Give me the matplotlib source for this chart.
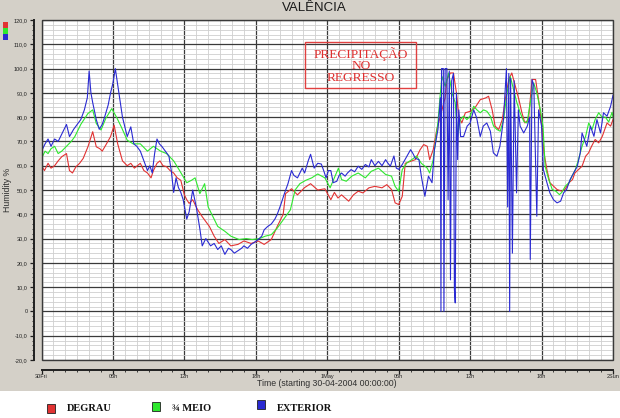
import matplotlib
matplotlib.use("Agg")
import matplotlib.pyplot as plt
from matplotlib.patches import Rectangle
from matplotlib.ticker import MultipleLocator, FuncFormatter

# hours since 30-04-2004 00:00 and humidity %
hrs_degrau = [0.0, 0.25, 0.55, 0.8, 1.1, 1.4, 1.7, 2.1, 2.35, 2.6, 2.9, 3.2, 3.5, 3.9, 4.3,
              4.6, 4.9, 5.1, 5.4, 5.8, 6.1, 6.4, 6.8, 7.2, 7.5, 7.8, 8.3, 8.6, 8.9, 9.2,
              9.4, 9.7, 9.95, 10.2, 10.5, 10.8, 11.1, 11.4, 11.7, 12.0, 12.2, 12.4, 12.7,
              13.1, 13.5, 14.1, 14.5, 14.9, 15.4, 15.9, 16.5, 17.0, 17.6, 18.2, 18.7, 19.3,
              19.8, 20.3, 20.5, 21.0, 21.5, 22.1, 22.6, 23.2, 23.8, 24.3, 24.6, 24.9, 25.2,
              25.8, 26.2, 26.6, 27.0, 27.5, 28.0, 28.6, 29.0, 29.4, 29.7, 30.0, 30.3, 30.55,
              31.0, 31.4, 31.8, 32.1, 32.4, 32.6, 32.9, 33.2, 33.5, 33.9, 34.05, 34.35, 34.6,
              34.85, 35.05, 35.3, 35.6, 36.0, 36.4, 36.85, 37.3, 37.55, 37.85, 38.1, 38.4,
              38.7, 38.95, 39.25, 39.5, 39.8, 40.1, 40.35, 40.6, 40.9, 41.2, 41.5, 41.75,
              42.0, 42.2, 42.45, 42.7, 43.0, 43.3, 43.7, 44.0, 44.3, 44.6, 44.8, 45.1, 45.4,
              45.7, 45.95, 46.2, 46.5, 46.8, 47.1, 47.5, 47.8, 48.0]
degrau = [60, 58, 61, 59, 60, 62, 63.7, 65, 58, 57, 59.6, 61, 63, 67.8, 74,
          67.8, 67, 66, 68.5, 72, 76.7, 69, 62, 60, 61, 59, 61, 58, 57, 55,
          58, 61, 62, 60, 59.6, 58, 57, 55, 54, 48, 46, 44.5, 46,
          42, 39, 35, 31, 28, 29.6, 27, 27.6, 29, 28, 29, 27.6, 29.6,
          35, 40, 48.5, 50.5, 48, 51, 52.6, 50, 50.5, 46, 49, 46.7, 48,
          45.4, 48, 49.5, 48.8, 50.9, 51.5, 50.9, 52.2, 50.2, 44.7, 44, 47.4, 61,
          61.8, 62.5, 66.6, 68.7, 68, 62.5, 66.6, 74.9, 80.4, 88, 95.5, 98.2, 98.2,
          90, 80.4, 77.6, 81.8, 82.4, 83.8, 87.2, 87.9, 88.6, 83, 76.3, 74.9,
          79, 87.2, 95.5, 98.2, 92.7, 87.2, 81.8, 77.6, 79, 95.5, 95.5, 87.2,
          77.6, 65.3, 58.4, 53, 51.6, 50.2, 49.5, 50.5, 53, 54.3, 57, 58.4, 59.8,
          63.9, 65.3, 68, 70.8, 69.4, 72.1, 77.6, 76.3, 79]

hrs_meio = [0.0, 0.3, 0.55, 0.8, 1.1, 1.4, 1.7, 2.1, 2.5, 2.8, 3.3, 3.9, 4.3, 4.6, 5.0,
            5.4, 5.9, 6.3, 6.7, 7.2, 7.7, 8.3, 8.9, 9.4, 10.0, 10.5, 11.1, 11.6, 12.2,
            12.6, 12.9, 13.3, 13.7, 14.0, 14.3, 14.8, 15.4, 15.9, 16.6, 17.2, 17.7, 18.3,
            18.8, 19.3, 19.8, 20.3, 20.9, 21.3, 21.7, 22.2, 22.7, 23.2, 23.8, 24.24, 24.66,
            24.94, 25.2, 25.6, 26.06, 26.6, 27.2, 27.7, 28.3, 28.9, 29.4, 29.7, 30.0, 30.3,
            30.7, 31.1, 31.5, 31.9, 32.4, 32.6, 32.9, 33.3, 33.45, 33.63, 33.91, 34.2,
            34.47, 34.75, 34.95, 35.17, 35.45, 35.73, 36.0, 36.3, 36.57, 36.85, 37.13,
            37.41, 37.7, 37.97, 38.25, 38.53, 38.81, 39.1, 39.37, 39.65, 39.93, 40.2, 40.5,
            40.78, 41.05, 41.34, 41.6, 41.9, 42.12, 42.3, 42.6, 42.9, 43.2, 43.5, 43.7,
            44.0, 44.3, 44.55, 44.84, 45.1, 45.4, 45.7, 45.96, 46.24, 46.5, 46.8, 47.08,
            47.36, 47.64, 47.92, 48.0]
meio = [63, 66, 65, 67, 68, 65, 66, 68, 70, 72, 77, 81.5, 83, 77.4, 74.7,
        79.5, 83.5, 80, 76, 70.5, 69, 69, 66, 68, 66, 65, 62, 58, 53,
        54, 55, 48.5, 52.6, 43, 40, 35, 33, 31, 29.6, 30, 29.6, 30,
        31, 31.6, 34.3, 37.7, 41.8, 50, 52.6, 54, 55, 56.6, 55, 50.9, 55.7,
        59, 54.3, 53.6, 55.7, 57, 55, 57.7, 59, 56.4, 55.7, 51.5, 49.5, 58.4,
        61.2, 62.5, 64, 61, 59, 57, 62.5, 78, 87, 96.8, 92.7, 98.2,
        90, 85.9, 72.1, 79, 80.4, 79, 80.4, 84.5, 83, 81.8, 83,
        82.4, 80.4, 76.3, 74.9, 74.2, 79, 90, 96.8, 91.4, 85.9, 81.8, 78.3,
        77.6, 85.9, 94.1, 90, 83, 76.3, 59.8, 54.3, 50.2, 49.5, 48.1, 49,
        51.6, 53, 55.7, 58.4, 62.5, 68, 72.1, 77.6, 74.9, 79, 81.8, 80,
        80, 78, 82, 80]

hrs_exterior = [0.0, 0.3, 0.55, 0.8, 1.1, 1.4, 1.7, 2.1, 2.35, 2.7, 3.0, 3.3, 3.6, 3.85, 4.0,
                4.15, 4.3, 4.6, 4.85, 5.1, 5.3, 5.6, 5.8, 6.0, 6.2, 6.35, 6.5, 6.8, 7.0,
                7.2, 7.5, 7.75, 8.0, 8.3, 8.6, 8.9, 9.1, 9.3, 9.5, 9.7, 9.9, 10.1, 10.4,
                10.7, 10.9, 11.1, 11.3, 11.5, 11.7, 11.9, 12.2, 12.4, 12.7, 13.0, 13.3,
                13.5, 13.8, 14.2, 14.5, 14.8, 15.1, 15.4, 15.7, 15.9, 16.2, 16.5, 16.8,
                17.0, 17.3, 17.6, 17.9, 18.2, 18.5, 18.7, 19.0, 19.3, 19.6, 19.8, 20.1,
                20.4, 20.7, 21.0, 21.2, 21.5, 21.7, 21.9, 22.1, 22.4, 22.6, 22.9, 23.2,
                23.5, 23.7, 23.9, 24.1, 24.3, 24.5, 24.8, 25.0, 25.2, 25.5, 25.7, 26.0,
                26.3, 26.6, 26.9, 27.2, 27.5, 27.7, 28.0, 28.3, 28.6, 28.9, 29.1, 29.3,
                29.6, 29.8, 30.0, 30.3, 30.7, 31.0, 31.2, 31.4, 31.7, 31.9, 32.2, 32.5,
                32.8, 33.0, 33.3, 33.5, 33.55, 33.6, 33.75, 33.8, 33.9, 34.05, 34.15, 34.25,
                34.35, 34.45, 34.6, 34.68, 34.75, 34.85, 34.95, 35.05, 35.2, 35.45, 35.75,
                36.0, 36.3, 36.55, 36.85, 37.1, 37.4, 37.7, 37.95, 38.25, 38.5, 38.8, 39.05,
                39.15, 39.25, 39.32, 39.4, 39.55, 39.7, 39.9, 40.05, 40.2, 40.5, 40.8, 41.0,
                41.05, 41.2, 41.35, 41.6, 41.75, 42.0, 42.15, 42.45, 42.7, 43.0, 43.3, 43.6,
                43.85, 44.1, 44.4, 44.7, 45.0, 45.25, 45.4, 45.6, 45.8, 46.1, 46.4, 46.65,
                46.95, 47.2, 47.5, 47.8, 48.0]
exterior = [66, 69, 71, 68, 71, 70, 73, 77, 72, 75, 77, 79, 83, 88, 99,
            90, 86, 79, 75, 77, 80, 85, 90, 94, 100, 95, 90, 80, 76,
            72, 76, 69, 68, 66, 62, 58, 60, 57, 65, 71, 69, 68, 66,
            64, 58, 49, 55, 51, 49, 46, 38, 41, 50, 43, 34,
            27, 30, 27, 28, 25.5, 27, 23.5, 26, 25.5, 24, 25, 26,
            27, 26, 27.6, 28.5, 29.6, 31, 33.6, 35, 36, 38, 40, 44,
            48.5, 52.6, 58, 56, 55, 57, 59, 57, 62, 64.7, 59, 61,
            60.7, 58, 55, 58, 58, 53, 53.6, 56, 57, 55.7, 57, 58.4,
            57.5, 59.8, 58.5, 60.5, 59.5, 62.5, 60, 61.8, 60, 62.5, 61, 59.8,
            64, 59, 58.5, 60.5, 64, 66.6, 65, 63, 62.5, 55.7, 47.4, 55.7,
            53, 66.6, 75, 88, 0, 100, 100, 0, 100, 100, 46, 99,
            13, 95, 98, 9, 3.5, 90, 62.5, 83, 72, 72, 76.3,
            77.6, 83, 79.7, 72, 76.3, 77.6, 74.2, 65.3, 63.9, 68, 79, 100,
            43, 98, 0, 96, 24, 95, 48.8, 83, 76.3, 73.5, 76.3, 80,
            21.4, 95.5, 93, 39.2, 83, 76.3, 58.4, 53, 48.8, 46, 44.7, 45.4,
            48.8, 50.2, 54.3, 57, 59.8, 65.3, 73.5, 70.8, 68, 76.3, 72.1, 79,
            73.5, 81.8, 80.4, 84.5, 89]

x_tick_labels = ["30Fri", "06h", "12h", "18h", "1May", "06h", "12h", "18h", "2Sun"]
series_names = ["DEGRAU", "\u00be MEIO", "EXTERIOR"]
series_colors = ["#e23232", "#2ee82e", "#2a2ad2"]

W, H = 620, 418


def fx(px):
    return px / W


def fy(py):
    return 1 - py / H


fig = plt.figure(figsize=(6.2, 4.18), dpi=100, facecolor="#d4d0c8")
fig.patches.append(Rectangle((0, 0), 1, fy(391), transform=fig.transFigure,
                             facecolor="white", edgecolor="none", zorder=0))

ax = fig.add_axes([fx(41.5), fy(360), fx(613) - fx(41.5), fy(20) - fy(360)])
ax.set_facecolor("white")

ax.plot(hrs_degrau, degrau, color=series_colors[0], lw=0.8, zorder=3)
ax.plot(hrs_meio, meio, color=series_colors[1], lw=0.8, zorder=4)
ax.plot(hrs_exterior, exterior, color=series_colors[2], lw=0.8, zorder=5)

ax.set_xlim(0, 48)
ax.set_ylim(-20, 120)
ax.xaxis.set_major_locator(MultipleLocator(6))
ax.xaxis.set_minor_locator(MultipleLocator(1))
ax.yaxis.set_major_locator(MultipleLocator(10))
ax.yaxis.set_minor_locator(MultipleLocator(2))
ax.set_xticks(range(0, 49, 6))
ax.set_xticklabels(x_tick_labels)
ax.yaxis.set_major_formatter(FuncFormatter(
    lambda v, p: "0" if v == 0 else f"{v:.1f}".replace(".", ",")))

ax.grid(which="minor", color="#cfcfcf", lw=0.6, zorder=0)
ax.grid(which="major", color="#3a3a3a", lw=0.9, zorder=1)
ax.set_axisbelow(True)
ax.add_patch(Rectangle((0, 0), 1, 1, transform=ax.transAxes, fill=False,
                       edgecolor="#3a3a3a", lw=1.0, zorder=6, clip_on=False))

for side in ("top", "right"):
    ax.spines[side].set_visible(False)
ax.spines["left"].set_position(("outward", 5.5))
ax.spines["bottom"].set_position(("outward", 7))
for side in ("left", "bottom"):
    ax.spines[side].set_linewidth(1.4)
    ax.spines[side].set_color("#202020")

ax.tick_params(axis="y", which="major", labelsize=4, width=0.9, length=3.0,
               colors="#202020", pad=1.5)
ax.tick_params(axis="x", which="major", labelsize=4, width=0.9, length=2.6,
               colors="#202020", pad=0.6)
ax.tick_params(axis="both", which="minor", width=0.6, length=1.5, colors="#202020")
for lab in ax.get_xticklabels() + ax.get_yticklabels():
    lab.set_family("Liberation Sans")

ax.set_xlabel("Time (starting 30-04-2004 00:00:00)", fontsize=6.3,
              family="Liberation Sans", color="#303030")
ax.xaxis.set_label_coords((327 - 41.5) / 571.5, -(379.5 - 360) / 340)
ax.set_ylabel("Humidity %", fontsize=6.3, family="Liberation Sans", color="#303030")
ax.yaxis.set_label_coords(-(41.5 - 12) / 571.5, 0.5)

fig.text(fx(314), fy(8), "VAL\u00caNCIA", fontsize=9.5, family="Liberation Sans",
         ha="center", va="center", color="#1a1a1a")

# small colour squares at the top left
for i, c in enumerate(series_colors):
    fig.patches.append(Rectangle((fx(2.5), fy(28 + 6 * i)), 5 / W, 5.5 / H,
                                 transform=fig.transFigure, facecolor=c,
                                 edgecolor="none"))

# annotation box
fig.patches.append(Rectangle((fx(305), fy(88)), 111 / W, 46 / H,
                             transform=fig.transFigure, fill=False,
                             edgecolor="#e04040", lw=1.0, zorder=7))
fig.text(fx(361), fy(65.5), "PRECIPITA\u00c7\u00c3O\nNO\nREGRESSO", fontsize=9.6,
         family="Liberation Serif", color="#e03030", ha="center", va="center",
         linespacing=0.92, zorder=8)

# legend along the bottom
leg_sq = [(47, 404), (152, 402), (257, 400)]
leg_tx = [67, 172, 277]
for name, c, (sx, sy), tx in zip(series_names, series_colors, leg_sq, leg_tx):
    fig.patches.append(Rectangle((fx(sx), fy(sy + 8.5)), 8 / W, 8.5 / H,
                                 transform=fig.transFigure, facecolor=c,
                                 edgecolor="#202020", lw=0.6))
    fig.text(fx(tx), fy(408.5), name, fontsize=7.5, family="Liberation Serif",
             weight="bold", color="#111111", ha="left", va="center")

fig.savefig("out.png", dpi=100, facecolor=fig.get_facecolor())
